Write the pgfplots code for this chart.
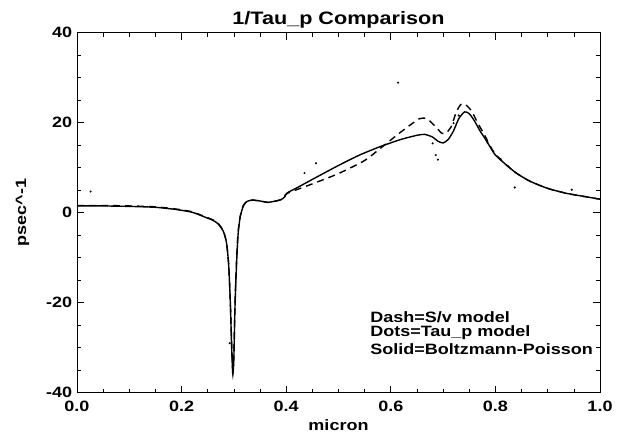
\documentclass[border=0pt]{standalone}
\usepackage{fontspec}
\setmainfont{Liberation Sans}[FakeStretch=1.2]
\usepackage{pgfplots}
\pgfplotsset{compat=1.18}

\begin{document}
\begin{tikzpicture}
\begin{axis}[
    at={(0pt,0pt)}, anchor=south west,
    scale only axis,
    width=523pt, height=360pt,
    xmin=0, xmax=1, ymin=-40, ymax=40,
    xtick={0,0.2,...,1.0}, ytick={-40,-20,0,20,40},
    minor x tick num=3, minor y tick num=3,
    tick align=inside,
    major tick length=7pt, minor tick length=4pt,
    axis line style={line width=0.9pt},
    every tick/.style={black, line width=0.7pt},
    /pgf/number format/assume math mode=true,
    tick label style={font=\bfseries\fontsize{15}{17}\selectfont},
    xticklabel style={yshift=-4.5pt, /pgf/number format/.cd, fixed, fixed zerofill, precision=1},
    yticklabel style={xshift=-1.3pt},
    clip mode=individual,
]
% Solid = Boltzmann-Poisson
\addplot[black, line width=1.4pt, smooth, tension=0.4] coordinates {
(0,1.5)(0.05,1.5)(0.1,1.4)(0.15,1.2)(0.19,0.7)(0.22,0.1)(0.245,-1.0)(0.26,-1.7)
(0.27,-2.5)(0.28,-4.2)(0.286,-6.8)(0.29,-11.6)(0.293,-19.4)(0.296,-31)(0.298,-36)
(0.300,-32)(0.302,-21.3)(0.305,-11.6)(0.308,-4.8)(0.312,-1)(0.318,1.5)(0.325,2.5)
(0.335,2.8)(0.35,2.6)(0.365,2.3)(0.38,2.6)(0.39,2.9)(0.397,3.5)(0.402,4.4)
(0.42,5.5)(0.45,7.4)(0.5,10.5)(0.54,12.8)(0.58,14.7)(0.62,16.3)(0.65,17.2)
(0.665,17.4)(0.68,16.8)(0.69,15.9)(0.70,15.5)(0.71,16.3)(0.72,18.2)(0.73,20.9)
(0.741,22.4)(0.75,22.0)(0.76,20.4)(0.77,18.3)(0.78,16.5)(0.79,14.6)(0.80,12.8)
(0.82,10.7)(0.84,8.8)(0.866,7.0)(0.9,5.4)(0.936,4.3)(0.97,3.6)(1.0,3.0)
};
% Dash = S/v model
\addplot[black, line width=1.4pt, dash pattern=on 7pt off 5pt, smooth, tension=0.4] coordinates {
(0,1.6)(0.05,1.6)(0.1,1.5)(0.15,1.3)(0.19,0.8)(0.22,0.2)(0.245,-0.9)(0.26,-1.6)
(0.27,-2.4)(0.28,-4.1)(0.286,-6.8)(0.29,-11.6)(0.293,-19.4)(0.296,-30)(0.298,-35)
(0.300,-31)(0.302,-20.4)(0.305,-10.7)(0.308,-4.4)(0.312,-0.8)(0.318,1.6)(0.325,2.5)
(0.335,2.8)(0.35,2.6)(0.365,2.3)(0.38,2.6)(0.39,2.9)(0.397,3.5)(0.402,4.3)
(0.45,6.4)(0.5,8.7)(0.55,11.6)(0.58,14.3)(0.62,18.0)(0.655,20.9)(0.67,20.8)
(0.685,19.2)(0.697,17.7)(0.705,17.7)(0.715,19.0)(0.725,22.3)(0.735,24.2)
(0.745,23.8)(0.755,22.5)(0.765,20.2)(0.78,17.1)(0.79,14.8)(0.80,13.0)
(0.82,10.7)(0.84,8.8)(0.866,7.0)(0.9,5.4)(0.936,4.3)(0.97,3.6)(1.0,3.0)
};
% Dots = Tau_p model
\addplot[only marks, mark=*, mark size=0.8pt, black] coordinates {
(0.026,4.7)(0.435,8.8)(0.457,11.0)(0.614,28.9)(0.68,15.4)(0.686,12.8)(0.69,11.8)
(0.837,5.6)(0.946,5.1)(0.72,19.9)(0.73,21.6)(0.785,15.5)(0.81,11.9)(0.825,10.3)
(0.292,-29)(0.299,-34)
};
\node[anchor=west, font=\bfseries\fontsize{15}{17}\selectfont] at (axis cs:0.554,-23.2) {Dash=S/v model};
\node[anchor=west, font=\bfseries\fontsize{15}{17}\selectfont] at (axis cs:0.554,-26.7) {Dots=Tau\_p model};
\node[anchor=west, font=\bfseries\fontsize{15}{17}\selectfont] at (axis cs:0.554,-30.3) {Solid=Boltzmann-Poisson};
\end{axis}
\node[anchor=base, font=\bfseries\fontsize{18}{20}\selectfont] at (261.5pt,367.7pt) {1/Tau\_p Comparison};
\node[anchor=center, font=\bfseries\fontsize{15}{17}\selectfont] at (261.5pt,-32pt) {micron};
\node[anchor=center, rotate=90, font=\bfseries\fontsize{15}{17}\selectfont] at (-54.5pt,180pt) {psec\textasciicircum-1};
\pgfresetboundingbox
\path[use as bounding box] (-77pt,-40.3pt) rectangle (547pt,392.7pt);
\end{tikzpicture}
\end{document}
